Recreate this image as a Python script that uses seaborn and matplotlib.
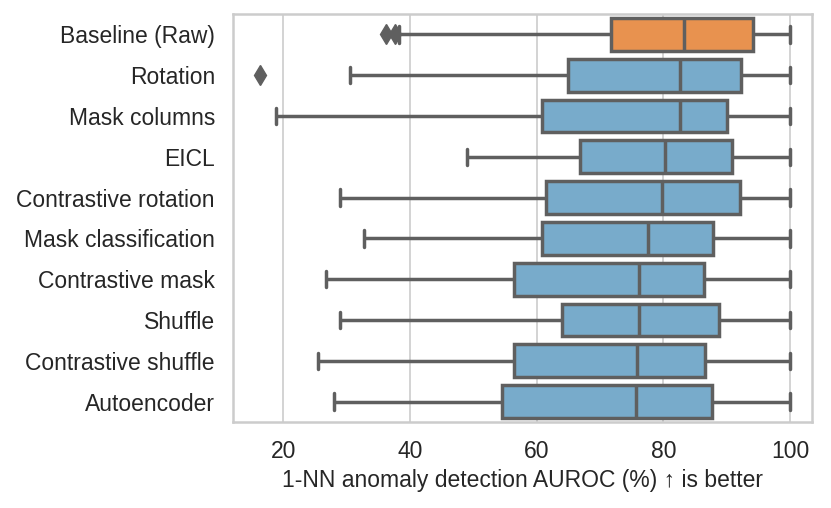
import matplotlib
matplotlib.use('Agg')
import matplotlib.pyplot as plt
import seaborn as sns
import pandas as pd
import numpy as np

# ──────────────────────────────────────────────────────────────
# Data (box summaries, % AUROC)
# ──────────────────────────────────────────────────────────────

methods = [
    'Baseline (Raw)', 'Rotation', 'Mask columns', 'EICL',
    'Contrastive rotation', 'Mask classification', 'Contrastive mask',
    'Shuffle', 'Contrastive shuffle', 'Autoencoder',
]
whisker_lo = [38.2, 30.5, 18.8, 49.0, 28.9, 32.7, 26.7, 29.0, 25.5, 28.0]
q1 = [71.7, 64.9, 60.8, 66.8, 61.5, 60.8, 56.4, 64.0, 56.5, 54.6]
median = [83.2, 82.7, 82.7, 80.2, 79.8, 77.6, 76.1, 76.1, 75.9, 75.6]
q3 = [94.2, 92.3, 90.1, 90.8, 92.1, 87.8, 86.4, 88.8, 86.6, 87.6]
whisker_hi = [100, 100, 100, 100, 100, 100, 100, 100, 100, 100]
outliers = [[36.2, 37.7], [16.3], [], [], [], [], [], [], [], []]

BLUE = '#78abcb'
ORANGE = '#e8924f'
LINE = '#5f5f5f'


def build_samples(i):
    """Points whose quartiles/whiskers match the summary for method i."""
    m = len(outliers[i])
    k = m + 1
    return (list(outliers[i]) + [whisker_lo[i]] + [q1[i]] * k
            + [median[i]] * k + [q3[i]] * k + [whisker_hi[i]])


rows = []
for i, name in enumerate(methods):
    for v in build_samples(i):
        rows.append({'method': name, 'auroc': v})
df = pd.DataFrame(rows)

palette = {name: (ORANGE if i == 0 else BLUE) for i, name in enumerate(methods)}

sns.set_theme(style='whitegrid')
plt.rcParams['font.family'] = ['Liberation Sans', 'DejaVu Sans']
plt.rcParams.update({
    'axes.edgecolor': '#cccccc',
    'grid.color': '#cccccc',
    'text.color': '#262626',
    'xtick.color': '#262626',
    'ytick.color': '#262626',
})

fig, ax = plt.subplots(figsize=(8.31, 5.08), dpi=100)
sns.boxplot(
    data=df, x='auroc', y='method', hue='method', order=methods,
    palette=palette, saturation=1, width=0.8, linewidth=2.5, linecolor=LINE,
    legend=False, ax=ax,
    flierprops=dict(marker='d', markersize=10, markerfacecolor=LINE,
                    markeredgecolor=LINE),
)

ax.set_xlim(12.08, 103.45)
ax.set_xticks([20, 40, 60, 80, 100])
ax.set_ylabel('')
ax.set_xlabel('1-NN anomaly detection AUROC (%) ↑ is better', fontsize=16.5,
              labelpad=4)
ax.tick_params(axis='y', labelsize=16.5, length=0, pad=13)
ax.tick_params(axis='x', labelsize=16.5, length=0, pad=13)
ax.grid(False, axis='y')
ax.grid(True, axis='x', linewidth=1.2)
for s in ax.spines.values():
    s.set_linewidth(1.8)

fig.subplots_adjust(left=0.2804, right=0.9771, top=0.9724, bottom=0.1693)
fig.savefig('out.png', dpi=100)
plt.close(fig)
